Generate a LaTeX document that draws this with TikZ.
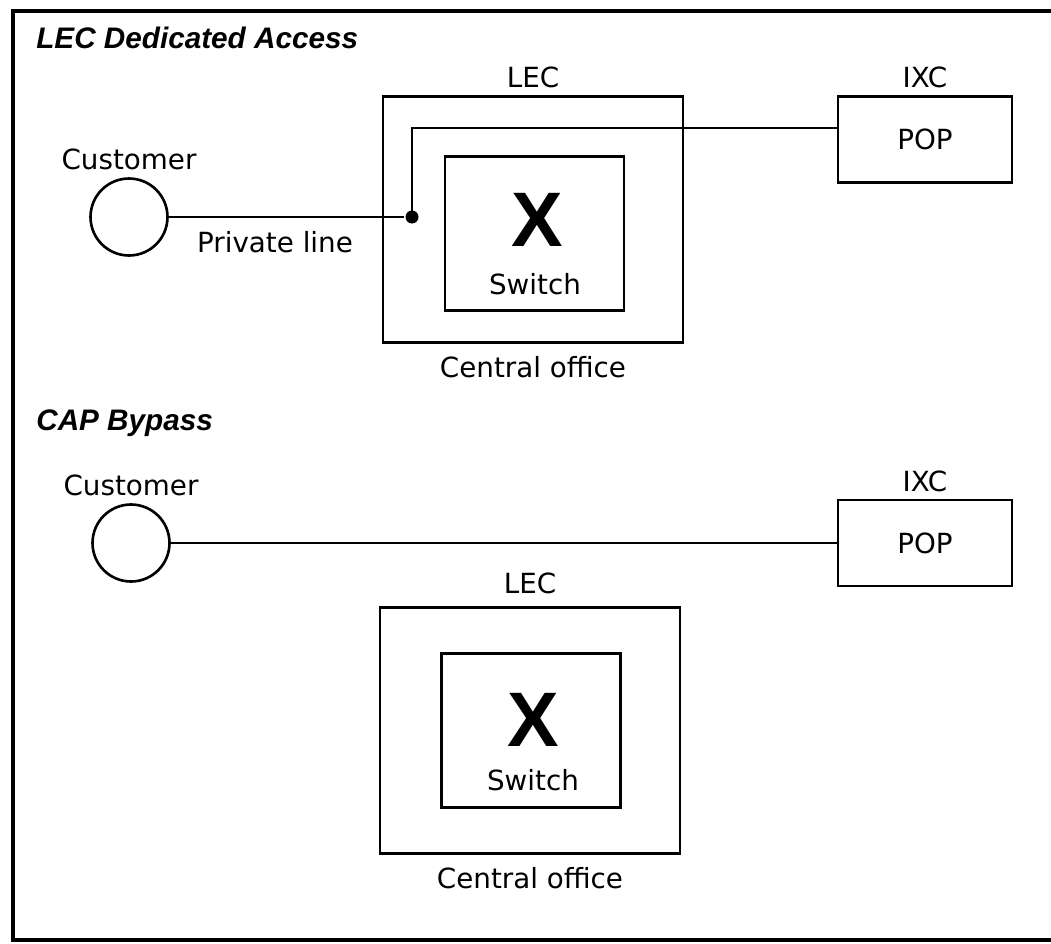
\documentclass[tikz,border=0pt]{standalone}
\usepackage{fontspec}
\setmainfont{DejaVu Sans}
\newfontfamily\headfont{Liberation Sans}
\usetikzlibrary{positioning}

\begin{document}
\begin{tikzpicture}[x=0.02cm, y=-0.02cm, line width=1.5pt,
    every node/.style={font=\fontsize{15.8}{18}\selectfont},
    every label/.style={font=\fontsize{15.8}{18}\selectfont},
    office/.style={draw, minimum width=6cm, minimum height=4.92cm},
    switchbox/.style={draw, minimum width=3.58cm, minimum height=3.08cm},
    popbox/.style={draw, minimum width=3.48cm, minimum height=1.72cm},
    customer/.style={draw, circle, minimum size=1.54cm, inner sep=0pt},
    heading/.style={anchor=base west, inner sep=0pt,
        font=\headfont\bfseries\itshape\fontsize{16.9}{20}\selectfont},
    bigx/.style={font=\headfont\bfseries\fontsize{44}{44}\selectfont}]

\useasboundingbox (0,0) rectangle (1051,943);
\draw[line width=1.8pt] (1060,11) -- (13,11) -- (13,940) -- (1060,940);

% LEC dedicated access
\node[heading] (head1) at (35,48) {LEC Dedicated Access};
\node[  customer,
        label=above:Customer
    ] (cust1) at (129,217) {};
\node[  office,
        label=above:LEC,
        label={[label distance=3pt]below:Central office}
    ] (office1) at (533,219.5) {};
\node[switchbox] (switch1) at (534.5,233.5) {};
\node[bigx] (x1) at (537,220) {X};
\node (sw1) at (535,284) {Switch};
\node[  popbox,
        label=above:IXC
    ] (pop1) at (925,139.5) {POP};
\node[fill, circle, minimum size=0.26cm, inner sep=0pt] (dot1) at (412,217) {};
\node (priv1) at (275,242) {Private line};
\coordinate (bend1) at (412,128);

% CAP bypass
\node[heading] (head2) at (35,430) {CAP Bypass};
\node[  customer,
        label=above:Customer
    ] (cust2) at (131,543) {};
\node[  popbox,
        label=above:IXC
    ] (pop2) at (925,543) {POP};
\node[  office,
        label={[label distance=3pt]above:LEC},
        label={[label distance=3pt]below:Central office}
    ] (office2) at (530,730.5) {};
\node[switchbox] (switch2) at (531,730.5) {};
\node[bigx] (x2) at (533,720) {X};
\node (sw2) at (533,780) {Switch};

% Lines
\draw (cust1) -- (dot1);
\draw (dot1.center) -- (bend1) -- (bend1 -| pop1.west);
\draw (cust2) -- (pop2);

\end{tikzpicture}
\end{document}
